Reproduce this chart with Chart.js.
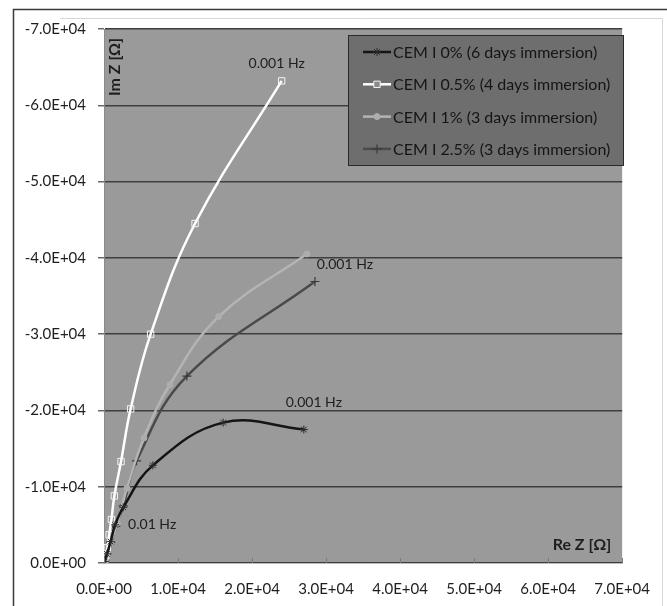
<!DOCTYPE html>
<html>
<head>
<meta charset="utf-8">
<style>
  html, body { margin: 0; padding: 0; background: #fff; }
  canvas { display: block; }
</style>
<script src="https://cdn.jsdelivr.net/npm/chart.js@4.4.1/dist/chart.umd.min.js"></script>
</head>
<body>
<canvas id="nyquistChart" width="667" height="606"></canvas>
<script>
// Series labels
const seriesLabels = [
    'CEM I 0% (6 days immersion)',
    'CEM I 0.5% (4 days immersion)',
    'CEM I 1% (3 days immersion)',
    'CEM I 2.5% (3 days immersion)'
];

// Re Z / Im Z values (Ohm)
const reZ0 = [100, 400, 900, 1500, 2600, 6600, 16100, 27000];
const imZ0 = [-200, -1200, -2800, -5000, -7300, -12800, -18400, -17500];

const reZ05 = [100, 250, 450, 700, 1000, 1400, 2300, 3600, 6300, 12300, 24000];
const imZ05 = [-300, -1000, -2000, -3700, -5700, -8800, -13300, -20200, -30000, -44500, -63200];

const reZ1 = [100, 400, 900, 1800, 3100, 5400, 8900, 15500, 27400];
const imZ1 = [-300, -1300, -2800, -5200, -9800, -16400, -23400, -32300, -40500];

const reZ25 = [100, 400, 900, 1600, 2600, 4400, 11200, 28500];
const imZ25 = [-300, -1200, -2700, -4800, -7500, -13400, -24500, -36900];

// Axis range
const xMin = 0, xMax = 70000, xStep = 10000;
const yMin = -70000, yMax = 0, yStep = 10000;

const FONT = 'Lato, "Open Sans", sans-serif';

function toPoints(xs, ys) {
    return xs.map((x, i) => ({ x: x, y: ys[i] }));
}

// Excel style scientific label: -7.0E+04
function sciLabel(v) {
    if (v === 0) return '0.0E+00';
    const parts = v.toExponential(1).split('e');
    const exp = parseInt(parts[1], 10);
    const sign = exp < 0 ? '-' : '+';
    const digits = String(Math.abs(exp)).padStart(2, '0');
    return parts[0] + 'E' + sign + digits;
}

// Frame, plot background, axis titles, annotations, legend
const decorPlugin = {
    id: 'decor',
    beforeDraw(chart) {
        const ctx = chart.ctx;
        const area = chart.chartArea;
        ctx.save();
        ctx.fillStyle = '#ffffff';
        ctx.fillRect(0, 0, chart.width, chart.height);
        // outer frame
        ctx.strokeStyle = '#3a3a3a';
        ctx.lineWidth = 1.5;
        ctx.beginPath();
        ctx.moveTo(13.5, chart.height);
        ctx.lineTo(13.5, 9.5);
        ctx.lineTo(chart.width, 9.5);
        ctx.stroke();
        ctx.strokeStyle = '#d6d6d6';
        ctx.lineWidth = 1;
        ctx.beginPath();
        ctx.moveTo(60, 18.5);
        ctx.lineTo(662.5, 18.5);
        ctx.lineTo(662.5, chart.height);
        ctx.stroke();
        // plot area
        ctx.fillStyle = '#9a9a9a';
        ctx.fillRect(area.left, area.top, area.right - area.left, area.bottom - area.top);
        ctx.restore();
    },
    afterDatasetsDraw(chart) {
        const ctx = chart.ctx;
        const area = chart.chartArea;
        const meta = i => chart.getDatasetMeta(i).data;
        const last = arr => arr[arr.length - 1];
        ctx.save();
        ctx.fillStyle = '#1e1e1e';
        ctx.textBaseline = 'middle';

        // frequency annotations
        ctx.font = '14px ' + FONT;
        ctx.textAlign = 'center';
        const p05 = last(meta(1));
        ctx.fillText('0.001 Hz', p05.x - 5, p05.y - 17);
        const p0 = last(meta(0));
        ctx.fillText('0.001 Hz', p0.x + 10, p0.y - 27);
        ctx.textAlign = 'left';
        const p1 = last(meta(2));
        ctx.fillText('0.001 Hz', p1.x + 10, p1.y + 10);
        const pLow = meta(0)[3];
        ctx.fillText('0.01 Hz', pLow.x + 13, pLow.y);

        // x axis tick marks, drawn inward like the original
        ctx.strokeStyle = '#7a7a7a';
        ctx.lineWidth = 1;
        const xs = chart.scales.x;
        xs.ticks.forEach(t => {
            const px = Math.round(xs.getPixelForValue(t.value)) + 0.5;
            ctx.beginPath();
            ctx.moveTo(px, area.bottom);
            ctx.lineTo(px, area.bottom - 5);
            ctx.stroke();
        });

        // axis titles inside the plot
        ctx.font = 'bold 16px ' + FONT;
        ctx.textAlign = 'right';
        ctx.fillText('Re Z [\u03A9]', area.right - 11, area.bottom - 18);
        ctx.translate(area.left + 11, area.top + 38);
        ctx.rotate(-Math.PI / 2);
        ctx.textAlign = 'center';
        ctx.fillText('Im Z [\u03A9]', 0, 0);
        ctx.restore();

        // legend box
        const lx = 348, ly = 35, lw = 275, lh = 130;
        ctx.save();
        ctx.fillStyle = '#6e6e6e';
        ctx.fillRect(lx, ly, lw, lh);
        ctx.strokeStyle = '#2a2a2a';
        ctx.lineWidth = 1;
        ctx.strokeRect(lx + 0.5, ly + 0.5, lw, lh);
        ctx.font = '16px ' + FONT;
        ctx.textAlign = 'left';
        ctx.textBaseline = 'middle';
        chart.data.datasets.forEach((ds, i) => {
            const y = ly + 17 + i * 32.3;
            ctx.strokeStyle = ds.borderColor;
            ctx.lineWidth = ds.borderWidth;
            ctx.beginPath();
            ctx.moveTo(lx + 15, y);
            ctx.lineTo(lx + 43, y);
            ctx.stroke();
            ctx.strokeStyle = ds.pointBorderColor;
            ctx.fillStyle = ds.pointStyle === 'rect' ? '#8a8a8a' : ds.pointBackgroundColor;
            ctx.lineWidth = ds.pointBorderWidth;
            Chart.helpers.drawPoint(ctx, {
                pointStyle: ds.pointStyle,
                radius: ds.pointRadius,
                borderWidth: ds.pointBorderWidth
            }, lx + 29, y);
            ctx.fillStyle = '#151515';
            ctx.fillText(ds.label, lx + 45, y + 1);
        });
        ctx.restore();
    }
};

const ctx = document.getElementById('nyquistChart').getContext('2d');
const nyquistChart = new Chart(ctx, {
    type: 'scatter',
    data: {
        datasets: [
            {
                label: seriesLabels[0],
                data: toPoints(reZ0, imZ0),
                showLine: true,
                tension: 0.4,
                borderColor: '#151515',
                borderWidth: 2.5,
                pointStyle: 'star',
                pointRadius: 4,
                pointBorderColor: '#2a2a2a',
                pointBackgroundColor: '#2a2a2a',
                pointBorderWidth: 1
            },
            {
                label: seriesLabels[1],
                data: toPoints(reZ05, imZ05),
                showLine: true,
                tension: 0.4,
                borderColor: '#ffffff',
                borderWidth: 2.5,
                pointStyle: 'rect',
                pointRadius: 4.5,
                pointBorderColor: '#f4f4f4',
                pointBackgroundColor: 'rgba(0,0,0,0)',
                pointBorderWidth: 1
            },
            {
                label: seriesLabels[2],
                data: toPoints(reZ1, imZ1),
                showLine: true,
                tension: 0.4,
                borderColor: '#b4b4b4',
                borderWidth: 2.5,
                pointStyle: 'circle',
                pointRadius: 3,
                pointBorderColor: '#adadad',
                pointBackgroundColor: '#adadad',
                pointBorderWidth: 1
            },
            {
                label: seriesLabels[3],
                data: toPoints(reZ25, imZ25),
                showLine: true,
                tension: 0.4,
                borderColor: '#4a4a4a',
                borderWidth: 2.5,
                pointStyle: 'cross',
                pointRadius: 4.5,
                pointBorderColor: '#3a3a3a',
                pointBackgroundColor: '#3a3a3a',
                pointBorderWidth: 1.2
            }
        ]
    },
    options: {
        responsive: false,
        animation: false,
        layout: {
            padding: { left: 0, top: 29, right: 38, bottom: 0 }
        },
        plugins: {
            legend: { display: false },
            tooltip: { enabled: false }
        },
        scales: {
            x: {
                type: 'linear',
                min: xMin,
                max: xMax,
                afterFit: scale => { scale.height = 43; },
                ticks: {
                    stepSize: xStep,
                    color: '#1e1e1e',
                    font: { family: FONT, size: 15 },
                    padding: 17,
                    maxRotation: 0,
                    callback: v => sciLabel(v)
                },
                grid: {
                    display: true,
                    drawOnChartArea: false,
                    drawTicks: false,
                    color: '#8a8a8a'
                },
                border: { color: '#bdbdbd', width: 1 }
            },
            y: {
                type: 'linear',
                min: yMin,
                max: yMax,
                reverse: true,
                afterFit: scale => { scale.width = 104; },
                ticks: {
                    stepSize: yStep,
                    color: '#1e1e1e',
                    font: { family: FONT, size: 15 },
                    padding: 12,
                    callback: v => sciLabel(v)
                },
                grid: {
                    color: '#3e3e3e',
                    lineWidth: 1.5,
                    tickLength: 6,
                    tickColor: '#6a6a6a'
                },
                border: { color: '#8a8a8a', width: 1 }
            }
        }
    },
    plugins: [decorPlugin]
});
</script>
</body>
</html>
